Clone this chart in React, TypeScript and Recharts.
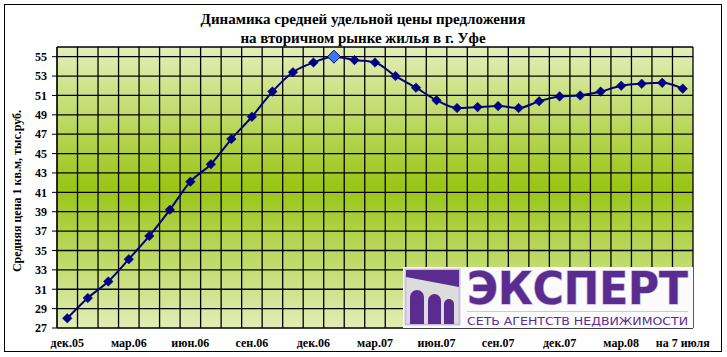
import React from 'react';
import { LineChart, Line, XAxis, YAxis, CartesianGrid } from 'recharts';

// месяцы по порядку, последний — данные на 7 июля
const categories = [
  'дек.05', 'янв.06', 'фев.06', 'мар.06', 'апр.06', 'май.06', 'июн.06', 'июл.06',
  'авг.06', 'сен.06', 'окт.06', 'ноя.06', 'дек.06', 'янв.07', 'фев.07', 'мар.07',
  'апр.07', 'май.07', 'июн.07', 'июл.07', 'авг.07', 'сен.07', 'окт.07', 'ноя.07',
  'дек.07', 'янв.08', 'фев.08', 'мар.08', 'апр.08', 'май.08', 'на 7 июля',
];

// средняя цена 1 кв.м, тыс.руб.
const prices = [
  28.0, 30.1, 31.8, 34.1, 36.5, 39.2, 42.1, 43.9, 46.5, 48.8, 51.4, 53.4, 54.4, 55.0, 54.65, 54.4,
  53.0, 51.8, 50.5, 49.7, 49.8, 49.9, 49.7, 50.4, 50.9, 51.0, 51.4, 52.0, 52.2, 52.3, 51.7,
];

const xTickLabels = ['дек.05', 'мар.06', 'июн.06', 'сен.06', 'дек.06', 'мар.07', 'июн.07', 'сен.07', 'дек.07', 'мар.08', 'на 7 июля'];
const yTicks = [27, 29, 31, 33, 35, 37, 39, 41, 43, 45, 47, 49, 51, 53, 55];
const highlightIndex = 13;

const data = categories.map((m, i) => ({ i, month: m, price: prices[i] }));
const labelTicks = xTickLabels.map((l) => categories.indexOf(l));
const boundaryTicks = [...categories.map((_, i) => i - 0.5), categories.length - 0.5];

const FONT = '"Liberation Serif", "Times New Roman", serif';
const NAVY = '#000080';
const PURPLE = '#5b2c8f';

function Diamond(props: any) {
  const { cx, cy, index } = props;
  if (cx == null || cy == null) return <g key={`d-${index}`} />;
  const hi = index === highlightIndex;
  const r = hi ? 6.5 : 4.8;
  return (
    <polygon
      key={`d-${index}`}
      points={`${cx},${cy - r} ${cx + r},${cy} ${cx},${cy + r} ${cx - r},${cy}`}
      fill={hi ? '#3f74f4' : NAVY}
      stroke={NAVY}
      strokeWidth={hi ? 1 : 0.5}
    />
  );
}

function Arch({ x, w, top, bottom }: { x: number; w: number; top: number; bottom: number }) {
  const r = w / 2;
  return (
    <path
      d={`M${x},${bottom} L${x},${top + r} A${r},${r} 0 0 1 ${x + w},${top + r} L${x + w},${bottom} Z`}
      fill={PURPLE}
    />
  );
}

export default function App() {
  return (
    <div style={{ position: 'relative', width: 727, height: 357, background: '#fff' }}>
      <style>{`body{margin:0}`}</style>
      <LineChart width={727} height={357} data={data} margin={{ top: 47, right: 34, left: 0, bottom: 0 }}>
        <defs>
          <linearGradient id="plotBg" x1="0" y1="0" x2="0" y2="1">
            <stop offset="0%" stopColor="#e4efba" />
            <stop offset="50%" stopColor="#99c514" />
            <stop offset="100%" stopColor="#e2edb6" />
          </linearGradient>
        </defs>
        <CartesianGrid
          xAxisId="grid"
          stroke="#000"
          strokeWidth={1.3}
          strokeOpacity={1}
          fill="url(#plotBg)"
          fillOpacity={1}
        />
        <XAxis
          xAxisId="grid"
          dataKey="i"
          type="number"
          domain={[-0.5, categories.length - 0.5]}
          ticks={boundaryTicks}
          interval={0}
          height={0}
          tickFormatter={() => ''}
          tickLine={{ stroke: '#000' }}
          tickSize={5}
          axisLine={{ stroke: '#000' }}
        />
        <XAxis
          xAxisId="labels"
          dataKey="i"
          type="number"
          domain={[-0.5, categories.length - 0.5]}
          ticks={labelTicks}
          interval={0}
          height={29}
          tickLine={false}
          axisLine={false}
          tickSize={6}
          tickMargin={4}
          tickFormatter={(v: number) => categories[v]}
          tick={{ fill: '#000', fontSize: 12, fontWeight: 'bold', fontFamily: FONT }}
        />
        <YAxis
          width={57}
          domain={[27, 56]}
          ticks={yTicks}
          interval={0}
          allowDataOverflow
          tickSize={5}
          tickMargin={5}
          tickLine={{ stroke: '#000' }}
          axisLine={{ stroke: '#000' }}
          tick={{ fill: '#000', fontSize: 12, fontWeight: 'bold', fontFamily: FONT }}
        />
        <Line
          xAxisId="grid"
          dataKey="price"
          type="monotone"
          stroke={NAVY}
          strokeWidth={2}
          dot={Diamond}
          activeDot={false}
          isAnimationActive={false}
        />
      </LineChart>

      <svg
        width={727}
        height={357}
        style={{ position: 'absolute', left: 0, top: 0, pointerEvents: 'none' }}
      >
        <rect x={4.5} y={4.5} width={717} height={347} fill="none" stroke="#000" />
        <text x={363} y={24} textAnchor="middle" fontFamily={FONT} fontWeight="bold" fontSize={15}>
          Динамика средней удельной цены предложения
        </text>
        <text x={363} y={43} textAnchor="middle" fontFamily={FONT} fontWeight="bold" fontSize={15}>
          на вторичном рынке жилья в г. Уфе
        </text>
        <text
          transform="translate(21,191) rotate(-90)"
          textAnchor="middle"
          fontFamily={FONT}
          fontWeight="bold"
          fontSize={12}
        >
          Средняя цена 1 кв.м, тыс.руб.
        </text>

        {/* логотип */}
        <rect x={403} y={267} width={290} height={61} fill="#fbfbfb" />
        <rect x={405.5} y={269.5} width={54} height={55} fill="#dcdcdc" stroke="#cbbde0" strokeWidth={2} />
        <polygon points="406,270 459,270 459,287 406,277" fill={PURPLE} />
        <Arch x={410} w={14} top={290} bottom={324} />
        <Arch x={428} w={13} top={294} bottom={324} />
        <Arch x={444} w={10} top={299} bottom={324} />
        <text
          x={467}
          y={304}
          textLength={221}
          lengthAdjust="spacingAndGlyphs"
          fontFamily='"DejaVu Sans", sans-serif'
          fontWeight="bold"
          fontSize={45}
          fill={PURPLE}
          stroke="#cdbfe3"
          strokeWidth={1.5}
          paintOrder="stroke"
        >
          ЭКСПЕРТ
        </text>
        <line x1={467} y1={311.5} x2={688} y2={311.5} stroke="#d2c6e6" strokeWidth={1} />
        <text
          x={467}
          y={324.5}
          textLength={221}
          lengthAdjust="spacingAndGlyphs"
          fontFamily='"DejaVu Sans", sans-serif'
          fontSize={10}
          fill={PURPLE}
        >
          СЕТЬ АГЕНТСТВ НЕДВИЖИМОСТИ
        </text>
      </svg>
    </div>
  );
}
